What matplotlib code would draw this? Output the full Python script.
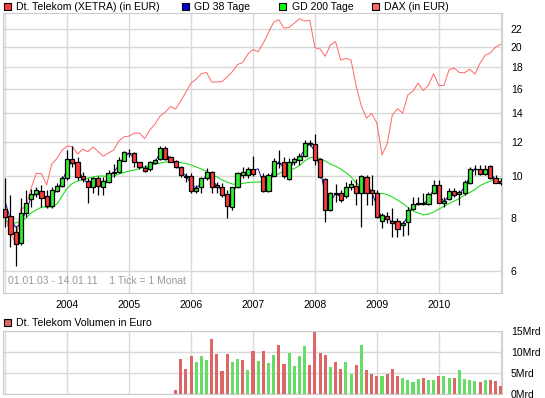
import matplotlib
matplotlib.use("Agg")
import matplotlib.pyplot as plt
from matplotlib.patches import Rectangle
from matplotlib.ticker import NullLocator
import numpy as np

plt.rcParams["font.family"] = ["Liberation Sans", "DejaVu Sans"]

W, H = 545, 398
nan = float("nan")

# monthly candles, Jan 2003 .. Jan 2011 (index = month), nan = no candle
opens = [8.36, 8.07, 7.40, 6.96, 8.18, 8.82, 9.06, 9.22, 8.98, 8.52,
         9.24, 9.48, 9.88, 10.94, 10.80, 10.00, 9.75, 9.41, 9.91, 9.44,
         9.67, 10.18, 10.24, 10.86, 11.32, 11.30, 10.76, 10.46, 10.37, 10.74,
         10.94, 11.61, 11.06, 10.82, 10.50, 10.00, 10.00, 9.25, 9.44, 9.92,
         10.20, 9.53, 9.44, 9.06, 8.48, 9.41, 10.04, 10.04, 10.37, nan,
         10.00, 9.24, 10.00, 10.75, 10.80, 9.84, 10.76, 10.90, 11.15, 11.92,
         11.86, 10.96, 9.82, 8.33, 9.11, 9.14, 8.98, 9.41, 9.49, 9.11,
         9.93, 9.27, 9.11, 7.86, 8.07, 7.86, 7.85, 7.69, 7.82, 8.36,
         8.60, 8.64, 8.60, 9.11, 9.53, 8.66, 8.82, 9.24, 9.08, 9.11,
         9.61, 10.38, 10.38, 10.11, 10.55, 9.88, 9.75]
highs = [9.88, 9.03, 7.64, 8.87, 9.27, 9.31, 9.41, 9.53, 9.27, 9.44,
         9.61, 10.00, 11.50, 11.75, 11.09, 10.23, 9.88, 9.96, 10.00, 9.96,
         10.33, 10.67, 11.09, 11.44, 11.54, 11.39, 10.80, 10.59, 10.84, 10.94,
         11.75, 11.75, 11.13, 10.90, 10.55, 10.15, 10.15, 9.53, 9.96, 10.42,
         10.29, 9.70, 9.61, 9.27, 9.44, 10.23, 10.51, 10.51, 11.15, nan,
         10.15, 10.15, 11.00, 11.50, 11.09, 11.00, 11.09, 11.30, 12.14, 12.14,
         12.53, 11.04, 9.88, 9.19, 9.56, 9.27, 9.70, 9.79, 9.84, 10.05,
         10.05, 10.05, 9.27, 8.18, 8.25, 8.41, 7.97, 7.85, 8.45, 8.95,
         8.95, 9.11, 9.19, 9.79, 9.79, 8.95, 9.36, 9.36, 9.27, 9.79,
         10.48, 10.61, 10.61, 10.61, 10.61, 10.05, 9.88]
lows = [7.59, 6.84, 6.17, 6.90, 8.03, 8.48, 8.95, 8.48, 8.41, 8.41,
        9.20, 9.44, 9.79, 10.51, 9.79, 9.70, 8.66, 9.14, 9.03, 9.03,
        9.65, 9.96, 10.18, 10.84, 11.09, 10.51, 10.37, 10.23, 10.30, 10.67,
        10.92, 10.90, 10.78, 10.45, 9.96, 9.70, 9.11, 9.14, 9.14, 9.79,
        9.11, 9.11, 8.95, 7.97, 8.33, 9.40, 9.88, 9.88, 10.02, nan,
        9.20, 9.20, 9.98, 10.44, 9.88, 9.80, 10.61, 10.61, 11.10, 11.75,
        10.61, 9.90, 7.82, 8.28, 8.71, 8.71, 8.87, 9.27, 8.56, 7.62,
        8.56, 8.56, 7.97, 7.55, 7.76, 7.20, 7.20, 7.24, 7.29, 8.33,
        8.56, 8.56, 8.56, 9.08, 8.64, 8.48, 8.79, 8.95, 8.56, 9.03,
        9.60, 10.05, 10.05, 10.05, 9.82, 9.61, 9.53]
closes = [8.01, 7.32, 6.93, 8.18, 8.66, 9.06, 9.26, 8.87, 8.51, 9.26,
          9.48, 9.88, 10.94, 10.71, 9.96, 9.82, 9.41, 9.88, 9.49, 9.75,
          10.18, 10.24, 10.88, 11.36, 11.34, 10.76, 10.48, 10.29, 10.76, 10.88,
          11.61, 10.94, 10.80, 10.51, 10.05, 9.95, 9.25, 9.40, 9.88, 10.20,
          9.44, 9.41, 9.03, 8.51, 9.41, 10.15, 10.20, 10.37, 10.11, nan,
          9.24, 10.05, 10.86, 10.70, 10.00, 10.76, 10.96, 11.15, 11.92, 11.86,
          10.90, 9.93, 8.33, 9.11, 9.06, 8.79, 9.41, 9.56, 9.11, 10.00,
          9.14, 9.11, 8.01, 8.11, 7.92, 7.76, 7.51, 7.78, 8.33, 8.60,
          8.64, 8.60, 9.08, 9.53, 8.64, 8.74, 9.24, 9.03, 9.16, 9.70,
          10.37, 10.39, 10.11, 10.38, 9.88, 9.65, 9.61]

gd38 = [8.7, 7.9, 7.6, 7.7, 8.3, 8.9, 9.1, 9.1, 8.8, 8.9,
        9.3, 9.7, 10.4, 10.9, 10.4, 9.9, 9.6, 9.6, 9.7, 9.6,
        9.9, 10.2, 10.6, 11.1, 11.3, 11.0, 10.6, 10.4, 10.5, 10.8,
        11.3, 11.3, 11.0, 10.7, 10.3, 10.0, 9.6, 9.35, 9.65, 10.05,
        9.8, 9.5, 9.25, 8.8, 8.9, 9.8, 10.1, 10.3, 10.3, 10.4,
        9.6, 9.6, 10.4, 10.8, 10.4, 10.3, 10.85, 11.0, 11.55, 11.9,
        11.4, 10.4, 9.0, 8.7, 9.1, 8.95, 9.2, 9.5, 9.3, 9.5,
        9.6, 9.2, 8.5, 7.95, 8.0, 7.8, 7.65, 7.7, 8.05, 8.5,
        8.6, 8.6, 8.85, 9.3, 9.1, 8.7, 9.0, 9.15, 9.1, 9.4,
        10.0, 10.4, 10.3, 10.25, 10.2, 9.8, 9.65]

gd200 = [7.89, 7.77, 7.77, 7.83, 7.98, 8.20, 8.33, 8.46, 8.46, 8.46,
         8.60, 8.98, 9.37, 9.61, 9.73, 9.79, 9.89, 9.95, 10.0, 10.0,
         9.97, 10.0, 10.11, 10.19, 10.27, 10.33, 10.41, 10.50, 10.58, 10.66,
         10.72, 10.78, 10.80, 10.78, 10.75, 10.70, 10.61, 10.50, 10.38, 10.25,
         10.08, 9.95, 9.79, 9.68, 9.58, 9.55, 9.61, 9.66, 9.67, 9.68,
         9.71, 9.84, 9.97, 10.13, 10.27, 10.33, 10.41, 10.58, 10.84, 11.04,
         11.07, 10.99, 10.84, 10.66, 10.55, 10.38, 10.19, 9.95, 9.63, 9.45,
         9.30, 9.18, 9.11, 9.10, 9.05, 8.93, 8.79, 8.63, 8.46, 8.28,
         8.20, 8.11, 8.15, 8.24, 8.37, 8.49, 8.63, 8.74, 8.86, 9.03,
         9.15, 9.30, 9.50, 9.63, 9.73, 9.81, 9.87]

dax = [8.0, 7.35, 7.0, 8.37, 8.48, 9.36, 10.15, 10.13, 9.53, 10.67,
       10.99, 11.5, 11.75, 11.72, 11.26, 11.56, 11.40, 11.69, 11.40, 11.13,
       11.32, 11.5, 12.07, 12.35, 12.4, 12.6, 12.6, 12.23, 12.81, 13.22,
       13.81, 14.11, 14.53, 14.34, 14.97, 15.71, 16.49, 16.84, 17.35, 17.45,
       16.58, 16.58, 16.63, 17.03, 17.54, 18.22, 18.42, 19.27, 19.74, 19.53,
       20.44, 21.63, 22.88, 23.19, 22.16, 22.25, 22.76, 23.32, 23.0, 23.13,
       19.94, 19.79, 19.05, 20.24, 20.61, 18.66, 18.83, 18.66, 16.22, 14.57,
       13.66, 14.0, 13.30, 11.2, 11.9, 13.88, 14.37, 14.03, 15.46, 15.79,
       16.49, 15.84, 16.31, 17.35, 16.27, 16.27, 17.73, 17.87, 17.45, 17.43,
       17.78, 17.3, 18.36, 19.16, 19.40, 20.0, 20.3]

# volume in Mrd EUR, from Oct 2005 (month 33) on
vol_start = 33
volume = [0.76, 8.4, 5.8, 8.9, 7.6, 8.9, 8.0, 13.2, 9.4, 5.3,
          9.4, 7.6, 8.4, 8.1, 5.6, 10.2, 7.9, 10.2, 7.4, 9.2,
          11.7, 7.1, 9.7, 6.6, 8.9, 11.4, 6.9, 15.0, 9.7, 9.2,
          6.4, 7.6, 5.8, 7.6, 4.6, 6.9, 11.7, 5.6, 4.6, 4.3,
          4.3, 4.8, 5.8, 4.3, 3.8, 3.3, 2.8, 3.6, 3.8, 3.3,
          3.3, 4.3, 4.3, 3.8, 3.8, 5.6, 3.6, 3.3, 3.1, 2.8,
          3.3, 3.3, 3.1, 1.8]
vol_up = [0, 0, 0, 0, 1, 1, 1, 0, 0, 0,
          0, 1, 1, 0, 1, 0, 1, 0, 1, 1,
          0, 0, 1, 1, 1, 1, 0, 0, 0, 0,
          1, 0, 0, 1, 1, 0, 1, 0, 0, 0,
          1, 0, 0, 0, 1, 1, 1, 1, 0, 1,
          1, 0, 1, 1, 0, 1, 1, 1, 1, 0,
          1, 0, 0, 0]

years = ["2004", "2005", "2006", "2007", "2008", "2009", "2010"]
price_ticks = [6, 8, 10, 12, 14, 16, 18, 20, 22]
vol_ticks = [0, 5, 10, 15]
vol_labels = ["0Mrd", "5Mrd", "10Mrd", "15Mrd"]

RED = "#ff3a3a"
GREEN = "#33ee33"
VRED = "#dd6666"
VGREEN = "#66dd66"
GRID = "#d9d9d9"


def box(x0, y0, x1, y1):
    return [x0 / W, 1 - y1 / H, (x1 - x0) / W, (y1 - y0) / H]


fig = plt.figure(figsize=(W / 100, H / 100), dpi=100)
ax = fig.add_axes(box(3, 13.3, 502.5, 293))
axv = fig.add_axes(box(3, 330.7, 502.5, 393.5))

months = np.arange(len(opens))
o = np.array(opens)
c = np.array(closes)
up = c >= o

# price panel
ax.set_yscale("log")
for m in range(0, 97, 12):
    ax.axvline(m, color=GRID, lw=1, zorder=0)
for p in price_ticks:
    ax.axhline(p, color=GRID, lw=1, zorder=0)

ax.plot(months, dax, color="#ff6666", lw=0.7, zorder=1)
ax.plot(months, gd200, color="#11dd11", lw=0.75, zorder=2)
ax.plot(months, gd38, color="#0000aa", lw=0.65, zorder=3)

ax.vlines(months, lows, highs, color="black", lw=0.9, zorder=4)
ax.bar(months, np.abs(c - o), bottom=np.minimum(o, c), width=0.8,
       color=np.where(up, GREEN, RED), edgecolor="black", linewidth=0.9, zorder=5)

ax.set_xlim(-0.45, 96.35)
ax.set_ylim(5.33, 24.0)
ax.set_xticks(range(12, 96, 12))
ax.set_xticklabels(years)
ax.yaxis.tick_right()
ax.set_yticks(price_ticks)
ax.set_yticklabels([str(p) for p in price_ticks])
ax.yaxis.set_minor_locator(NullLocator())
ax.tick_params(axis="x", length=0, pad=5, labelsize=7.5)
ax.tick_params(axis="y", length=0, pad=6, labelsize=7.5)
for s in ax.spines.values():
    s.set_color("#cccccc")

ax.text(0.01, 0.025, "01.01.03 - 14.01.11    1 Tick = 1 Monat", transform=ax.transAxes,
        color="#999999", fontsize=7.5, va="bottom", ha="left")

# volume panel
for m in range(0, 97, 12):
    axv.axvline(m, color=GRID, lw=1, zorder=0)
for v in vol_ticks:
    axv.axhline(v, color=GRID, lw=1, zorder=0)
vx = np.arange(vol_start, vol_start + len(volume))
axv.bar(vx, volume, width=0.6, color=[VGREEN if u else VRED for u in vol_up], zorder=2)
axv.set_xlim(-0.45, 96.35)
axv.set_ylim(0, 15.1)
axv.set_xticks([])
axv.yaxis.tick_right()
axv.set_yticks(vol_ticks)
axv.set_yticklabels(vol_labels)
axv.tick_params(axis="y", length=0, pad=6, labelsize=7.5)
for s in axv.spines.values():
    s.set_color("#cccccc")


def legend_item(x, y, color, label):
    fig.add_artist(Rectangle((x / W, 1 - (y + 3.5) / H), 7 / W, 7 / H, facecolor=color,
                             edgecolor="black", lw=0.8, transform=fig.transFigure))
    fig.text((x + 12.2) / W, 1 - y / H, label, va="center", ha="left", fontsize=7.6)


legend_item(3.5, 6.5, RED, "Dt. Telekom (XETRA) (in EUR)")
legend_item(182, 6.5, "#0000dd", "GD 38 Tage")
legend_item(279.5, 6.5, "#00ff00", "GD 200 Tage")
legend_item(372, 6.5, "#ff6666", "DAX (in EUR)")
legend_item(3.5, 322.5, VRED, "Dt. Telekom Volumen in Euro")

fig.savefig("out.png", dpi=100)
